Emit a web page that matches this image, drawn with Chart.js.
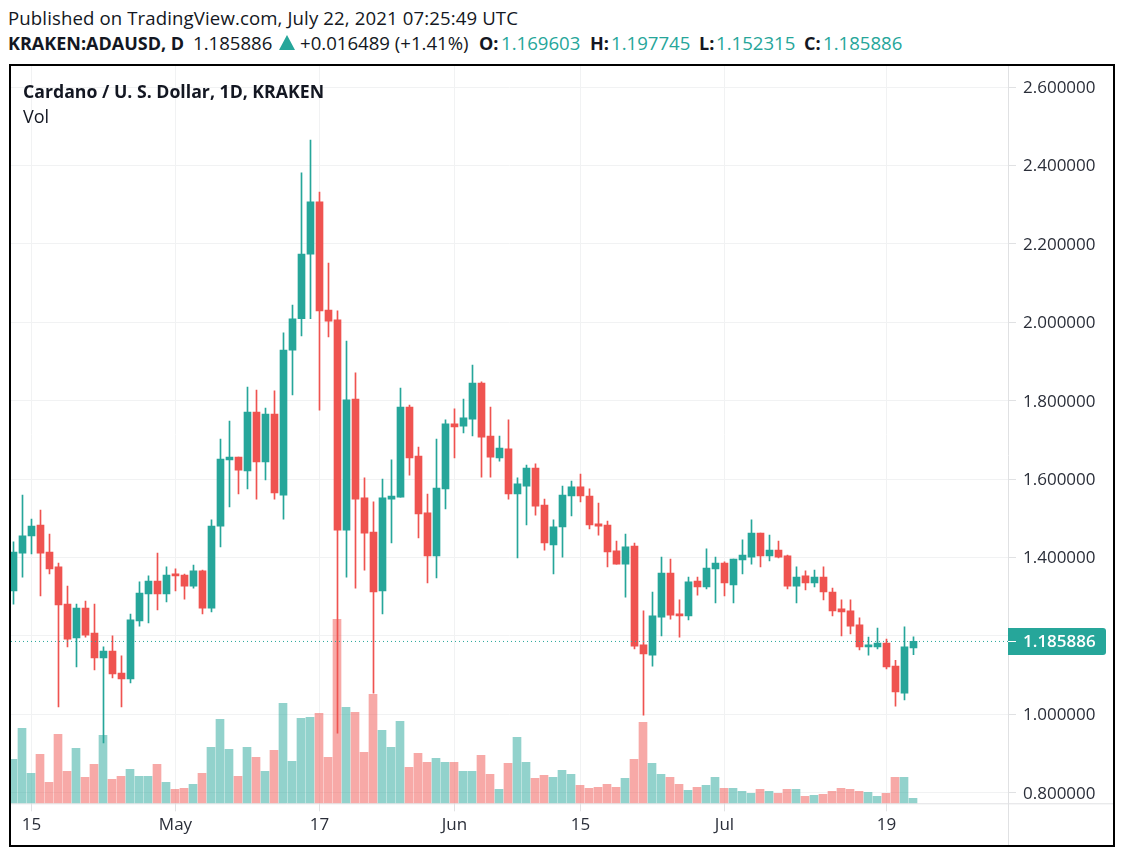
<!DOCTYPE html>
<html>
<head>
<meta charset="utf-8">
<title>ADAUSD</title>
<script src="https://cdn.jsdelivr.net/npm/chart.js@4"></script>
<style>
  html, body { margin: 0; padding: 0; background: #fff; }
  body { width: 1124px; height: 856px; position: relative; overflow: hidden; font-family: "Open Sans", sans-serif; color: #131722; }
  .txt { position: absolute; white-space: nowrap; font-size: 18.6px; line-height: 22px; }
  .b { font-weight: 700; font-size: 18px; }
  .up { color: #26a69a; }
  #frame { position: absolute; left: 9px; top: 64px; width: 1102px; height: 779px; border: 2px solid #000; }
  #grafico { position: absolute; left: 0; top: 0; }
  #tri { position: absolute; left: 279px; top: 35px; width: 0; height: 0; border-left: 8px solid transparent; border-right: 8px solid transparent; border-bottom: 15px solid #26a69a; }
</style>
</head>
<body>
<div class="txt" style="left:8px;top:7px;letter-spacing:0.12px">Published on TradingView.com, July 22, 2021 07:25:49 UTC</div>
<div class="txt b" style="left:8px;top:32px">KRAKEN:ADAUSD, D</div>
<div class="txt" style="left:193px;top:32px">1.185886</div>
<div id="tri"></div>
<div class="txt" style="left:300px;top:32px">+0.016489 (+1.41%)</div>
<div class="txt b" style="left:479px;top:32px">O:</div>
<div class="txt up" style="left:501px;top:32px">1.169603</div>
<div class="txt b" style="left:590px;top:32px">H:</div>
<div class="txt up" style="left:611px;top:32px">1.197745</div>
<div class="txt b" style="left:699px;top:32px">L:</div>
<div class="txt up" style="left:716px;top:32px">1.152315</div>
<div class="txt b" style="left:804px;top:32px">C:</div>
<div class="txt up" style="left:823px;top:32px">1.185886</div>

<div id="frame"><canvas id="grafico" width="1102" height="779"></canvas></div>
<div class="txt b" style="left:23px;top:80px;font-size:17.7px">Cardano / U. S. Dollar, 1D, KRAKEN</div>
<div class="txt" style="left:23px;top:105px;font-size:18px">Vol</div>

<script>
// one value per day, 13 Apr to 22 Jul 2021
const opens = [1.315,1.411,1.455,1.483,1.414,1.376,1.281,1.195,1.271,1.207,1.144,1.161,1.105,1.090,1.238,1.307,1.340,1.307,1.355,1.355,1.327,1.366,1.271,1.480,1.649,1.656,1.621,1.771,1.644,1.766,1.559,1.929,2.009,2.174,2.307,2.031,2.006,1.470,1.804,1.552,1.465,1.315,1.549,1.554,1.784,1.659,1.514,1.404,1.575,1.741,1.735,1.753,1.845,1.710,1.654,1.677,1.562,1.582,1.628,1.534,1.432,1.478,1.557,1.580,1.557,1.486,1.483,1.417,1.383,1.429,1.177,1.151,1.248,1.360,1.253,1.251,1.340,1.325,1.371,1.386,1.330,1.394,1.401,1.462,1.404,1.419,1.404,1.327,1.353,1.335,1.350,1.312,1.269,1.264,1.228,1.172,1.172,1.182,1.123,1.054,1.169603];
const highs = [1.440,1.559,1.498,1.521,1.460,1.386,1.327,1.281,1.289,1.281,1.172,1.200,1.149,1.256,1.338,1.353,1.411,1.376,1.371,1.358,1.381,1.368,1.496,1.702,1.748,1.656,1.835,1.827,1.781,1.825,1.973,2.044,2.381,2.465,2.332,2.151,2.029,1.952,1.871,1.603,1.542,1.600,1.649,1.832,1.789,1.682,1.562,1.702,1.751,1.779,1.804,1.891,1.848,1.784,1.710,1.751,1.603,1.636,1.639,1.549,1.496,1.582,1.595,1.613,1.575,1.539,1.493,1.442,1.460,1.437,1.264,1.312,1.401,1.396,1.292,1.350,1.350,1.422,1.401,1.389,1.396,1.445,1.496,1.462,1.457,1.442,1.406,1.376,1.366,1.368,1.376,1.322,1.292,1.292,1.246,1.197,1.220,1.192,1.138,1.223,1.197745];
const lows = [1.281,1.350,1.409,1.302,1.358,1.019,1.172,1.121,1.197,1.113,0.927,1.093,1.019,1.080,1.225,1.233,1.266,1.287,1.315,1.294,1.322,1.256,1.261,1.427,1.529,1.562,1.575,1.549,1.598,1.549,1.498,1.815,1.965,2.009,1.776,1.963,0.952,1.350,1.322,1.368,1.054,1.256,1.437,1.554,1.610,1.450,1.335,1.348,1.524,1.654,1.718,1.710,1.605,1.605,1.646,1.549,1.399,1.483,1.508,1.419,1.358,1.401,1.506,1.542,1.473,1.457,1.376,1.383,1.299,1.167,0.998,1.123,1.200,1.243,1.197,1.241,1.304,1.320,1.284,1.302,1.284,1.358,1.383,1.376,1.391,1.399,1.320,1.284,1.317,1.325,1.292,1.251,1.200,1.205,1.164,1.151,1.167,1.116,1.021,1.037,1.152315];
const closes = [1.414,1.455,1.480,1.411,1.371,1.279,1.192,1.271,1.202,1.144,1.161,1.103,1.090,1.241,1.309,1.340,1.307,1.355,1.353,1.327,1.366,1.271,1.480,1.651,1.656,1.623,1.771,1.644,1.766,1.565,1.929,2.009,2.174,2.307,2.029,2.003,1.470,1.802,1.549,1.462,1.312,1.552,1.557,1.784,1.654,1.511,1.404,1.577,1.741,1.733,1.756,1.845,1.707,1.656,1.679,1.562,1.588,1.628,1.531,1.437,1.478,1.559,1.580,1.557,1.483,1.480,1.414,1.383,1.427,1.174,1.154,1.251,1.360,1.253,1.251,1.338,1.325,1.373,1.386,1.335,1.396,1.406,1.462,1.404,1.419,1.401,1.327,1.350,1.335,1.350,1.312,1.264,1.261,1.225,1.172,1.174,1.182,1.121,1.057,1.172,1.185886];
// volume has no printed scale, so these are relative bar heights
const volumes = [44,75,30,49,21,69,32,55,26,39,68,24,27,34,27,27,39,21,14,15,19,30,56,84,54,27,56,46,32,53,100,42,85,86,90,46,184,96,91,51,109,73,56,82,36,50,41,45,41,41,32,32,48,29,14,40,66,41,25,28,26,33,29,18,15,16,19,16,25,44,81,40,29,26,19,13,16,18,26,15,15,12,10,14,12,10,14,14,7,8,9,12,15,14,12,11,7,10,26,26,5];
const priceTicks = [0.8,1.0,1.2,1.4,1.6,1.8,2.0,2.2,2.4,2.6];
const dayTicks = [2,18,34,49,63,79,97];
const dayLabels = ['15','May','17','Jun','15','Jul','19'];

const UP = '#26a69a', DOWN = '#ef5350';
const UP_VOL = 'rgba(38,166,154,0.5)', DOWN_VOL = 'rgba(239,83,80,0.5)';
const GRID = '#f1f2f3', AXIS = '#e0e1e3', TEXT = '#2a2e39';

const colores = closes.map((c, i) => c >= opens[i] ? UP : DOWN);
const lastClose = closes[closes.length - 1];

// plot runs 997px wide at 9px a day, first candle centred 2.5px in
const xMin = -2.5 / 9, xMax = 994.5 / 9;
const volShift = 0.5 / 9;

// the library would shrink the plot to fit half a tick label
function sinPadding(s) {
  s.paddingTop = 0; s.paddingBottom = 0; s.paddingLeft = 0; s.paddingRight = 0;
}

const lineasEje = {
  id: 'lineasEje',
  beforeDatasetsDraw(chart) {
    const { ctx, chartArea, width, height } = chart;
    ctx.save();
    ctx.strokeStyle = AXIS;
    ctx.lineWidth = 1;
    ctx.beginPath();
    ctx.moveTo(chartArea.right + 0.5, chartArea.top);
    ctx.lineTo(chartArea.right + 0.5, height);
    ctx.moveTo(chartArea.left, chartArea.bottom + 0.5);
    ctx.lineTo(width, chartArea.bottom + 0.5);
    ctx.stroke();
    ctx.restore();
  },
  afterDraw(chart) {
    const { ctx, chartArea } = chart;
    const y = Math.round(chart.scales.y.getPixelForValue(lastClose));
    ctx.save();
    ctx.fillStyle = UP;
    ctx.beginPath();
    ctx.roundRect(chartArea.right, y - 13, 98, 27, [0, 3, 3, 0]);
    ctx.fill();
    ctx.fillStyle = '#fff';
    ctx.fillRect(chartArea.right, y, 8, 1);
    ctx.font = '600 17px "Open Sans"';
    ctx.textBaseline = 'middle';
    ctx.fillText(lastClose.toFixed(6), chartArea.right + 15, y + 1);
    ctx.restore();
  }
};

new Chart(document.getElementById('grafico'), {
  type: 'bar',
  data: {
    datasets: [
      {
        label: 'Last',
        type: 'line',
        data: [{ x: xMin, y: lastClose }, { x: xMax, y: lastClose }],
        borderColor: UP,
        borderWidth: 1,
        borderDash: [1, 3],
        pointRadius: 0,
        order: 0
      },
      {
        label: 'Body',
        data: closes.map((c, i) => ({ x: i, y: [opens[i], c] })),
        backgroundColor: colores,
        barThickness: 7,
        minBarLength: 2,
        grouped: false,
        order: 1
      },
      {
        label: 'Wick',
        data: highs.map((h, i) => ({ x: i, y: [lows[i], h] })),
        backgroundColor: colores,
        barThickness: 1,
        grouped: false,
        order: 2
      },
      {
        label: 'Vol',
        data: volumes.map((v, i) => ({ x: i, y: v })),
        backgroundColor: colores.map(c => c === UP ? UP_VOL : DOWN_VOL),
        barThickness: 8,
        grouped: false,
        xAxisID: 'xv',
        yAxisID: 'yv',
        order: 3
      }
    ]
  },
  options: {
    responsive: false,
    animation: false,
    devicePixelRatio: 1,
    layout: { padding: 0 },
    plugins: { legend: { display: false }, tooltip: { enabled: false } },
    scales: {
      x: {
        type: 'linear',
        offset: false,
        min: xMin,
        max: xMax,
        afterBuildTicks(s) { s.ticks = dayTicks.map(v => ({ value: v })); },
        afterFit(s) { s.height = 41.7; sinPadding(s); },
        grid: { offset: false, color: GRID, tickColor: AXIS, tickLength: 8 },
        border: { display: false },
        ticks: {
          autoSkip: false,
          maxRotation: 0,
          padding: 4,
          color: TEXT,
          font: { family: 'Open Sans', size: 17 },
          callback: v => dayLabels[dayTicks.indexOf(v)]
        }
      },
      xv: { type: 'linear', offset: false, display: false, min: xMin + volShift, max: xMax + volShift },
      y: {
        position: 'right',
        min: 0.7730,
        max: 2.6538,
        afterBuildTicks(s) { s.ticks = priceTicks.map(v => ({ value: v })); },
        afterFit(s) { s.width = 105; sinPadding(s); },
        grid: { color: GRID, tickColor: AXIS, tickLength: 8 },
        border: { display: false },
        ticks: {
          padding: 7,
          labelOffset: 1,
          color: TEXT,
          font: { family: 'Open Sans', size: 17 },
          callback: v => v.toFixed(6)
        }
      },
      yv: { display: false, min: 0, max: 737.3 }
    }
  },
  plugins: [lineasEje]
});
</script>
</body>
</html>
